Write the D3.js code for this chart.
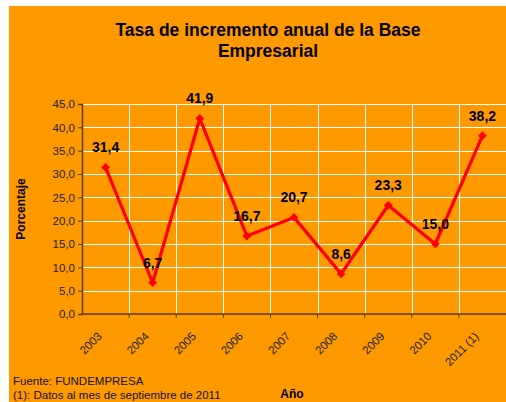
<!DOCTYPE html>
<html>
<head>
<meta charset="utf-8">
<script src="https://cdn.jsdelivr.net/npm/d3@7"></script>
<style>
  html, body { margin: 0; padding: 0; background: #fff; }
  svg { display: block; font-family: "Liberation Sans", Arial, sans-serif; }
</style>
</head>
<body>
<svg id="chart" width="506" height="402"></svg>
<script>
// data
var years = ['2003', '2004', '2005', '2006', '2007', '2008', '2009', '2010', '2011 (1)'];
var values = [31.4, 6.7, 41.9, 16.7, 20.7, 8.6, 23.3, 15.0, 38.2];
var yTicks = [0, 5, 10, 15, 20, 25, 30, 35, 40, 45];
var titleLines = ['Tasa de incremento anual de la Base', 'Empresarial'];
var notes = ['Fuente: FUNDEMPRESA', '(1): Datos al mes de septiembre de 2011'];

var fmt = function (v) { return d3.format('.1f')(v).replace('.', ','); };

var svg = d3.select('#chart');
var W = 506, H = 402;
var plotL = 82, plotR = 506, plotT = 104, plotB = 314;
var axisColor = '#5a3c10';

// orange panel
svg.append('rect')
  .attr('x', 9).attr('y', 6)
  .attr('width', W - 9).attr('height', H - 6)
  .attr('fill', '#ff9900');

var x = d3.scaleBand().domain(years).range([plotL, plotR]);
var y = d3.scaleLinear().domain([0, 45]).range([plotB, plotT]);

// title
svg.append('g').selectAll('text')
  .data(titleLines)
  .enter().append('text')
  .attr('x', 268)
  .attr('y', function (d, i) { return 36 + i * 21; })
  .attr('text-anchor', 'middle')
  .attr('font-size', '17.5px')
  .attr('font-weight', 'bold')
  .text(function (d) { return d; });

// grid
var grid = svg.append('g');
grid.selectAll('line.h')
  .data(yTicks.filter(function (t) { return t > 0; }))
  .enter().append('line')
  .attr('class', 'h')
  .attr('x1', plotL).attr('x2', plotR)
  .attr('y1', function (d) { return Math.round(y(d)) + 0.5; })
  .attr('y2', function (d) { return Math.round(y(d)) + 0.5; })
  .attr('stroke', '#fff').attr('stroke-width', 1);
grid.selectAll('line.v')
  .data(years.slice(1))
  .enter().append('line')
  .attr('class', 'v')
  .attr('x1', function (d) { return Math.round(x(d)) + 0.5; })
  .attr('x2', function (d) { return Math.round(x(d)) + 0.5; })
  .attr('y1', plotT).attr('y2', plotB)
  .attr('stroke', '#fff').attr('stroke-width', 1);

// y axis
var yAxis = svg.append('g')
  .attr('transform', 'translate(' + plotL + ',0)')
  .call(d3.axisLeft(y).tickValues(yTicks).tickFormat(fmt).tickSize(4).tickPadding(3));
yAxis.select('.domain').attr('stroke', axisColor).attr('stroke-width', 1.5);
yAxis.selectAll('.tick line').attr('stroke', axisColor);
yAxis.selectAll('text').attr('font-size', '11.5px').attr('fill', '#222')
  .attr('font-family', '"Liberation Sans", Arial, sans-serif');

// x axis with ticks at category boundaries
var xAxis = svg.append('g')
  .attr('transform', 'translate(0,' + plotB + ')');
xAxis.append('line')
  .attr('x1', plotL).attr('x2', plotR)
  .attr('stroke', axisColor).attr('stroke-width', 1.5);
xAxis.selectAll('line.t')
  .data(years.slice(1))
  .enter().append('line')
  .attr('class', 't')
  .attr('x1', function (d) { return x(d); })
  .attr('x2', function (d) { return x(d); })
  .attr('y1', 0).attr('y2', 4)
  .attr('stroke', axisColor);
xAxis.selectAll('text')
  .data(years)
  .enter().append('text')
  .attr('transform', function (d) {
    return 'translate(' + (x(d) + x.bandwidth() / 2 - 3) + ',23) rotate(-45)';
  })
  .attr('text-anchor', 'end')
  .attr('font-size', '11.5px')
  .attr('fill', '#222')
  .text(function (d) { return d; });

// axis titles
svg.append('text')
  .attr('transform', 'translate(25,' + ((plotT + plotB) / 2) + ') rotate(-90)')
  .attr('text-anchor', 'middle')
  .attr('font-size', '12px')
  .attr('font-weight', 'bold')
  .text('Porcentaje');
svg.append('text')
  .attr('x', 292).attr('y', 398)
  .attr('text-anchor', 'middle')
  .attr('font-size', '12px')
  .attr('font-weight', 'bold')
  .text('Año');

// line + markers
var cx = function (d, i) { return x(years[i]) + x.bandwidth() / 2; };
var line = d3.line()
  .x(cx)
  .y(function (d) { return y(d); });
svg.append('path')
  .datum(values)
  .attr('d', line)
  .attr('fill', 'none')
  .attr('stroke', '#ff0000')
  .attr('stroke-width', 3.2)
  .attr('stroke-linejoin', 'round');
svg.append('g').selectAll('path')
  .data(values)
  .enter().append('path')
  .attr('d', d3.symbol().type(d3.symbolSquare).size(38))
  .attr('transform', function (d, i) { return 'translate(' + cx(d, i) + ',' + y(d) + ') rotate(45)'; })
  .attr('fill', '#ff0000');

// data labels
svg.append('g').selectAll('text')
  .data(values)
  .enter().append('text')
  .attr('x', cx)
  .attr('y', function (d) { return y(d) - 15; })
  .attr('text-anchor', 'middle')
  .attr('font-size', '14px')
  .attr('font-weight', 'bold')
  .text(fmt);

// footnotes
svg.append('g').selectAll('text')
  .data(notes)
  .enter().append('text')
  .attr('x', 13)
  .attr('y', function (d, i) { return 385 + i * 14; })
  .attr('font-size', '11.5px')
  .attr('fill', '#111')
  .text(function (d) { return d; });
</script>
</body>
</html>
